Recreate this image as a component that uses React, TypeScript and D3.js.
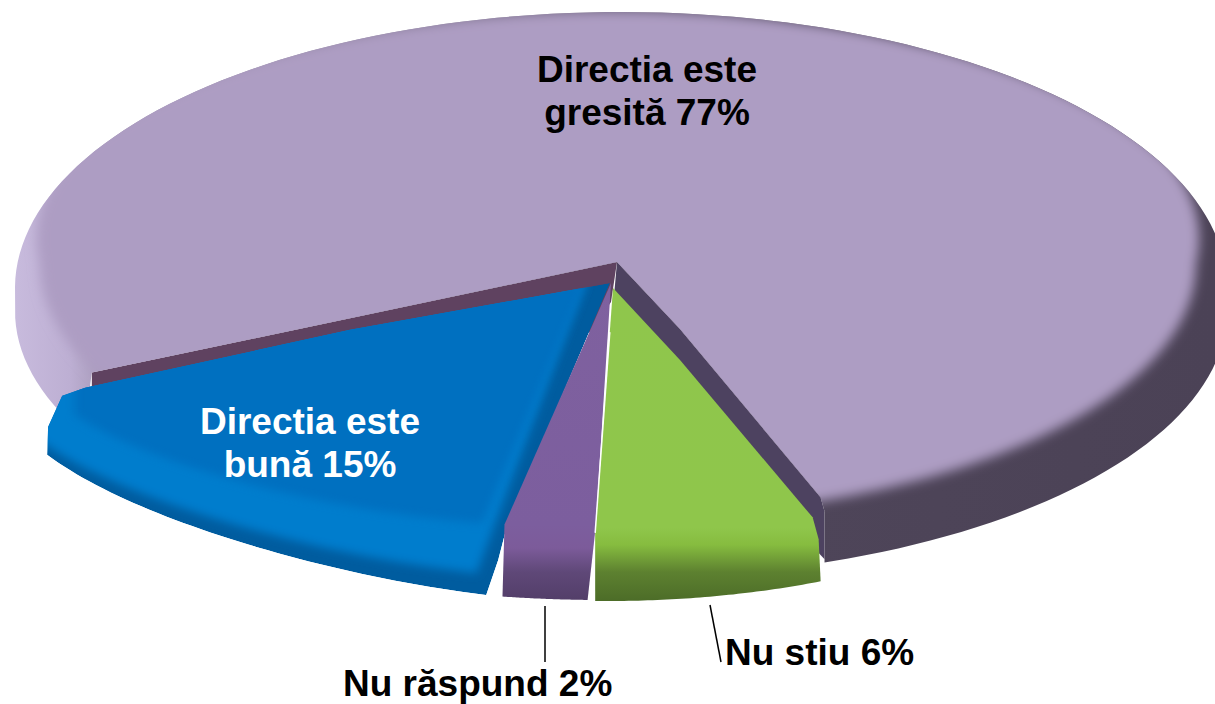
import React from "react";
import * as d3 from "d3";

const sliceNames = ["Directia este gresită", "Nu stiu", "Nu răspund", "Directia este bună"];
const sliceValues = [77, 6, 2, 15];
const mainStops = [
  [14, "#c8bbdd"], [70, "#bdafd3"], [110, "#a396b4"], [800, "#4e4559"], [1215, "#4b4256"],
];
const greenStops = [
  [285, "#8fc64c"], [528, "#8fc64b"], [545, "#86bc3f"], [572, "#5d8130"], [600, "#4d6d28"],
];
const purpleStops = [
  [283, "#7f619f"], [525, "#7c5e9e"], [548, "#7c5b9a"], [572, "#5f4878"], [600, "#533e69"],
];

const rad = (deg: number) => (deg * Math.PI) / 180;
const pie = d3.pie<number>().sort(null).value((d) => d)
  .startAngle(rad(242.5)).endAngle(rad(242.5 + 360));
const arcs = pie(sliceValues);
const [mainArc, greenArc, purpleArc, blueArc] = arcs;

type P = [number, number];
const polar = (a: number, cx: number, cy: number, rx: number, ry: number): P =>
  [cx + rx * Math.sin(a), cy - ry * Math.cos(a)];
const line = d3.line<P>();
const samples = (a0: number, a1: number, n = 48) =>
  d3.range(n + 1).map((i) => d3.interpolateNumber(a0, a1)(i / n));

const apex: P = [617, 262];
const faceP = (a: number) => polar(a, 618, 264, 578, 253);
const rimP = (a: number) =>
  Math.cos(a) > 0 ? polar(a, 621, 288, 606, 276) : polar(a, 621, 311, 606, 267);
const faceOuter = (a: number) => {
  const c = Math.cos(a);
  const rx = c > 0 ? 578 + 24 * Math.min(1, c * 2.5) : 578;
  return polar(a, 618, 264, rx, 253);
};
const facePath = line(samples(0, 2 * Math.PI, 240).map(faceOuter)) + "Z";

const extend = (from: P, to: P, k: number): P => [
  from[0] + (to[0] - from[0]) * k,
  from[1] + (to[1] - from[1]) * k,
];
const rightRaw = faceP(mainArc.endAngle);
const rightCorner: P = [rightRaw[0] + 2, rightRaw[1] - 4];
const rightBend: P = [apex[0] + 63, apex[1] + 67];
const leftRaw = extend(apex, faceP(mainArc.startAngle), 1.04);
const leftCorner: P = [leftRaw[0] + 7, leftRaw[1] - 13];

const mainPath = (() => {
  const a0 = mainArc.startAngle, a1 = mainArc.endAngle;
  const pts: P[] = [apex, leftCorner, ...samples(a0, a1, 160).map(rimP)];
  const a1b = Math.PI - Math.asin((rightCorner[0] + 4 - 621) / 606);
  pts[pts.length - 1] = rimP(a1b + 2 * Math.PI);
  pts.push([rightCorner[0] + 4, rightCorner[1] + 14]);
  pts.push(rightCorner);
  pts.push(rightBend);
  return line(pts) + "Z";
})();

const rightWall: P[] = [apex, rightBend, rightCorner, [rightCorner[0] + 4, rightCorner[1] + 14], [rightCorner[0] + 4, rightCorner[1] + 62], [apex[0] - 6, apex[1] + 68]];
const leftWall: P[] = [apex, leftCorner, [leftCorner[0], leftCorner[1] + 50], [apex[0] - 27, apex[1] + 70], [apex[0] - 6, apex[1] + 40]];

const arcPts = (a0: number, a1: number, cx: number, cy: number, rx: number, ry: number) =>
  samples(a0, a1).map((a) => polar(a, cx, cy, rx, ry));

const greenLo = arcPts(greenArc.startAngle, greenArc.endAngle, 609, 285, 610, 316);
const greenLeftTop: P = [greenLo[greenLo.length - 1][0], greenLo[greenLo.length - 1][1] - 68];
const greenApex: P = [613, 288];
const greenPath = (() => {
  const p0 = greenLo[0];
  return line([greenApex, [greenApex[0] + 67, greenApex[1] + 72], [p0[0] - 8, p0[1] - 64], [p0[0] - 2, p0[1] - 42], ...greenLo, greenLeftTop] as P[]) + "Z";
})();
const purplePath = (() => {
  const lo = arcPts(purpleArc.startAngle, purpleArc.endAngle, 603, 283, 680, 317);
  const p0 = lo[0], p1 = lo[lo.length - 1];
  return line([[611, 283], [p0[0] + 8, p0[1] - 72], ...lo, [p1[0] + 2, p1[1] - 72]] as P[]) + "Z";
})();

const bluePts = (rxK: number, dx: number, shift0: number, shift1: number) =>
  samples(blueArc.startAngle, blueArc.endAngle).map((a, i, all) => {
    const t = i / (all.length - 1);
    const p = polar(a, 574 + dx, 332, 594 * rxK, 266);
    return [p[0], p[1] - d3.interpolateNumber(shift0, shift1)(t) - 10 * Math.sin(Math.PI * t)] as P;
  });
const blueOutline = (() => {
  const lo = bluePts(1, 0, 0, 0);
  const a = lo[0], b = lo[lo.length - 1];
  return line([
    [610, 283], [a[0] + 21, a[1] - 70], [a[0] + 12, a[1] - 35], ...lo,
    [b[0] + 1, b[1] - 28], [b[0] + 15, b[1] - 59], [b[0] + 38, b[1] - 67], [b[0] + 303, b[1] - 125],
  ] as P[]) + "Z";
})();
const blueBand = line([[590, 270], ...bluePts(0.995, -10, 22, 14), [10, 390], [350, 300]] as P[]) + "Z";
const blueFlat = line([[586, 282], ...bluePts(0.93, -10, 72, 40), [74, 380], [350, 305]] as P[]) + "Z";

const labelFont = "'Liberation Sans', Arial, sans-serif";
const Label = ({ x, y, fill = "#000", anchor = "middle", children }: any) => (
  <text x={x} y={y} fill={fill} textAnchor={anchor} fontFamily={labelFont} fontWeight={700} fontSize={37}>
    {children}
  </text>
);

const Stops = ({ id, stops, x }: { id: string; stops: any[]; x?: boolean }) => {
  const lo = stops[0][0], hi = stops[stops.length - 1][0];
  return (
    <linearGradient id={id} gradientUnits="userSpaceOnUse"
      x1={x ? lo : 0} x2={x ? hi : 0} y1={x ? 0 : lo} y2={x ? 0 : hi}>
      {stops.map(([p, c]) => (
        <stop key={p} offset={(p - lo) / (hi - lo)} stopColor={c} />
      ))}
    </linearGradient>
  );
};

export default function App() {
  const blurRegion = { filterUnits: "userSpaceOnUse" as const, x: -50, y: -50, width: 1320, height: 800 };
  const sliverStart = extend(greenApex, greenLeftTop, 0.18);
  return (
    <svg width={1215} height={704} viewBox="0 0 1215 704"
      style={{ position: "absolute", left: 0, top: 0, display: "block", background: "#fff" }}>
      <defs>
        <Stops id="gMain" stops={mainStops} x />
        <Stops id="gGreen" stops={greenStops} />
        <Stops id="gPurple" stops={purpleStops} />
        <filter id="b6" {...blurRegion}><feGaussianBlur stdDeviation={6} /></filter>
        <filter id="b4" {...blurRegion}><feGaussianBlur stdDeviation={5} /></filter>
        <clipPath id="cMain"><path d={mainPath} /></clipPath>
        <clipPath id="cBlue"><path d={blueOutline} /></clipPath>
      </defs>

      <path d={line(leftWall) + "Z"} fill="#5f4260" />
      <path d={line(rightWall) + "Z"} fill="#4d4260" />

      <path d={mainPath} fill="url(#gMain)" />
      <g clipPath="url(#cMain)">
        <path d={facePath} fill="#ad9dc3" filter="url(#b6)" />
      </g>

      <g clipPath="url(#cBlue)">
        <path d={blueOutline} fill="#005c9f" />
        <path d={blueBand} fill="#007dcd" filter="url(#b4)" />
        <path d={blueFlat} fill="#0070c0" filter="url(#b4)" />
      </g>

      <path d={purplePath} fill="url(#gPurple)" />
      <path d={greenPath} fill="url(#gGreen)" />
      <line x1={sliverStart[0]} y1={sliverStart[1]} x2={greenLeftTop[0]} y2={greenLeftTop[1]} stroke="#fff" strokeWidth={1.5} />

      <line x1={545} y1={606} x2={545} y2={662} stroke="#000" strokeWidth={1.5} />
      <line x1={710} y1={605} x2={721} y2={662} stroke="#000" strokeWidth={1.5} />

      <Label x={647} y={82}>{"Directia este"}</Label>
      <Label x={647} y={125}>{"gresită " + sliceValues[0] + "%"}</Label>
      <Label x={310} y={434} fill="#fff">{"Directia este"}</Label>
      <Label x={310} y={477} fill="#fff">{"bună " + sliceValues[3] + "%"}</Label>
      <Label x={725} y={665} anchor="start">{sliceNames[1] + " " + sliceValues[1] + "%"}</Label>
      <Label x={343} y={696} anchor="start">{sliceNames[2] + " " + sliceValues[2] + "%"}</Label>
    </svg>
  );
}
